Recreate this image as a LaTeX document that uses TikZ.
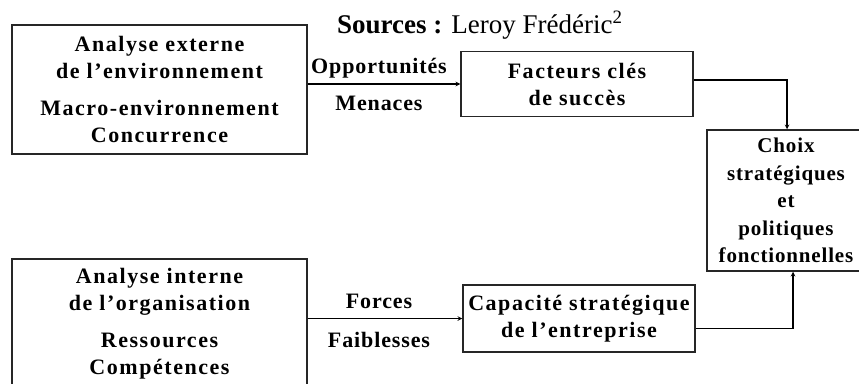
\documentclass[tikz,border=0pt]{standalone}
\usepackage{fontspec}
\setmainfont{Liberation Serif}
\usepackage{tikz}
\usetikzlibrary{positioning,calc}
\tikzstyle{bloc} = [draw=black!85, line width=1.5pt, inner sep=0pt, align=center, font={\fontsize{22}{27}\selectfont\bfseries\addfontfeature{LetterSpace=7}}]
\tikzstyle{etiq} = [inner sep=0pt, anchor=base, font={\fontsize{22}{27}\selectfont\bfseries\addfontfeature{LetterSpace=4}}]
\tikzstyle{arrow} = [line width=1.1pt,->,>=stealth]

\begin{document}
\begin{tikzpicture}[x=1pt, y=-1pt]
        \useasboundingbox (0,0) rectangle (859,383);
        \node[anchor=base west, inner sep=0pt, font={\fontsize{27}{30}\selectfont}] (src) at (337,33) {\textbf{Sources :} Leroy Frédéric\textsuperscript{2}};
        % blocs
        \node[bloc, minimum width=295pt, minimum height=129pt] (ext) at (159.5,89.5) {Analyse externe\\de l’environnement\\[10pt]Macro-environnement\\Concurrence};
        \node[bloc, minimum width=232pt, minimum height=65pt] (fcs) at (577,84) {Facteurs clés\\de succès};
        \node[bloc, minimum width=158pt, minimum height=141pt, font={\fontsize{21}{27.5}\selectfont\bfseries\addfontfeature{LetterSpace=4}}] (choix) at (786,200.5) {Choix\\stratégiques\\et\\politiques\\fonctionnelles};
        \node[bloc, minimum width=295pt, minimum height=130pt] (int) at (159.5,324) {Analyse interne\\de l’organisation\\[10pt]Ressources\\Compétences};
        \node[bloc, minimum width=232pt, minimum height=67pt] (cap) at (579,318.5) {Capacité stratégique\\de l’entreprise};
        % etiquettes
        \node[etiq] (opp) at (379,73) {Opportunités};
        \node[etiq] (men) at (379,110) {Menaces};
        \node[etiq] (forc) at (379,308) {Forces};
        \node[etiq] (faib) at (379,347) {Faiblesses};
        % fleches
        \draw[arrow] (fcs.west -| ext.east) -- (fcs.west);
        \draw[arrow] ([yshift=4pt]fcs.east) -| ([xshift=1pt]choix.north);
        \draw[arrow] (cap.west -| int.east) -- (cap.west);
        \draw[arrow] ([yshift=-10pt]cap.east) -| ([xshift=7pt]choix.south);
\end{tikzpicture}
\end{document}
